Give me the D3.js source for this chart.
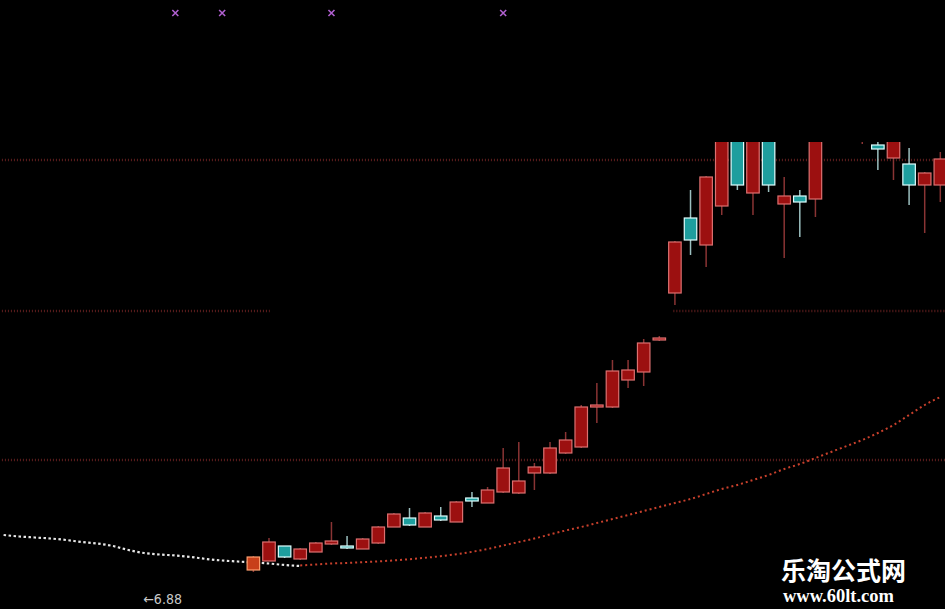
<!DOCTYPE html>
<html><head><meta charset="utf-8">
<script src="https://cdn.jsdelivr.net/npm/d3@7"></script>
<style>html,body{margin:0;padding:0;background:#000;overflow:hidden}</style>
</head><body>
<svg id="c" width="945" height="609"></svg>
<script>
// ---- data ----
const days  = d3.range(0, 45);
const open  = [6.90,6.99,7.14,7.01,7.08,7.16,7.14,7.11,7.17,7.33,7.42,7.33,7.44,7.38,7.62,7.57,7.68,7.67,7.87,7.87,8.07,8.13,8.53,8.53,8.80,8.88,9.20,9.67,10.42,10.15,10.54,11.35,10.67,11.45,10.56,10.64,10.61,11.40,11.70,11.45,11.15,11.02,10.96,10.75,10.75];
const close = [7.03,7.18,7.03,7.11,7.17,7.19,7.12,7.21,7.33,7.46,7.35,7.47,7.40,7.58,7.59,7.70,7.92,7.79,7.93,8.12,8.20,8.53,8.55,8.89,8.90,9.17,9.22,10.18,10.20,10.83,11.30,10.75,11.40,10.75,10.64,10.58,11.35,11.70,11.55,11.60,11.11,11.30,10.75,10.87,11.01];
const high  = [7.04,7.22,7.14,7.12,7.18,7.38,7.24,7.22,7.34,7.47,7.52,7.48,7.53,7.59,7.68,7.73,8.12,8.18,7.97,8.18,8.28,8.55,8.77,9.00,9.00,9.21,9.24,10.19,10.70,10.84,11.40,11.45,11.50,11.55,10.83,10.70,11.45,11.80,11.85,11.70,11.20,11.40,11.12,10.88,11.08];
const low   = [6.88,6.99,7.02,7.00,7.08,7.15,7.11,7.11,7.16,7.33,7.34,7.33,7.39,7.38,7.53,7.57,7.67,7.66,7.70,7.86,8.06,8.12,8.37,8.52,8.72,8.74,9.19,9.55,10.05,9.93,10.45,10.70,10.45,10.68,10.02,10.23,10.43,11.25,11.30,11.16,10.90,10.80,10.55,10.27,10.58];

const maWhiteIdx = d3.range(-16, 4);
const maWhite = [7.25,7.235,7.225,7.215,7.20,7.18,7.165,7.14,7.10,7.07,7.055,7.045,7.03,7.01,6.995,6.985,6.975,6.965,6.95,6.94];
const maRedIdx = d3.range(3, 45);
const maRed = [6.945,6.955,6.965,6.97,6.978,6.986,6.996,7.008,7.022,7.038,7.058,7.082,7.11,7.145,7.18,7.215,7.255,7.295,7.33,7.37,7.41,7.45,7.49,7.53,7.57,7.61,7.66,7.71,7.75,7.80,7.85,7.91,7.96,8.02,8.08,8.14,8.20,8.27,8.35,8.45,8.55,8.63];

const levelPrice = [11.0, 9.49, 9.49, 8.0];
const levelFrom  = [-16.3, -16.3, 26.9, -16.3];
const levelTo    = [44.4, 1.05, 44.4, 44.4];

const markerIdx = [-5, -2, 5, 16];
const lowLabel = "\u21906.88";
const brandCN = "乐淘公式网";
const brandURL = "www.60lt.com";

// ---- scales ----
const W = 945, H = 609;
const svg = d3.select("#c");
svg.append("rect").attr("width", W).attr("height", H).attr("fill", "#000");
const x = d3.scaleLinear().domain([-16.23, 44.3]).range([0, W]);
const y = d3.scaleLinear().domain([6.51, 12.6]).range([H, 0]);
const clipTop = y(11.18);

svg.append("clipPath").attr("id", "pc").append("rect")
  .attr("x", 0).attr("y", clipTop).attr("width", W).attr("height", H - clipTop);

const g = svg.append("g").attr("clip-path", "url(#pc)");

// horizontal dotted levels
levelPrice.forEach((p, i) => {
  g.append("line")
    .attr("x1", x(levelFrom[i])).attr("x2", x(levelTo[i]))
    .attr("y1", y(p)).attr("y2", y(p))
    .attr("stroke", "#5e1e1e").attr("stroke-width", 2.5)
    .attr("stroke-dasharray", "1,2");
});

// moving average lines
const maLine = d3.line().x(d => x(d[0])).y(d => y(d[1])).curve(d3.curveMonotoneX);
g.append("path").datum(maWhiteIdx.map((k, i) => [k, maWhite[i]]))
  .attr("d", maLine).attr("fill", "none")
  .attr("stroke", "#e8e8e8").attr("stroke-width", 2.2).attr("stroke-dasharray", "2.5,2.5");
g.append("path").datum(maRedIdx.map((k, i) => [k, maRed[i]]))
  .attr("d", maLine).attr("fill", "none")
  .attr("stroke", "#c8402c").attr("stroke-width", 2).attr("stroke-dasharray", "2,3");

// candles
const bw = 12.5;
const candles = g.selectAll("g.k").data(days).join("g").attr("class", "k");
candles.append("line")
  .attr("x1", d => x(d)).attr("x2", d => x(d))
  .attr("y1", d => y(high[d])).attr("y2", d => y(low[d]))
  .attr("stroke", d => close[d] >= open[d] ? "#8a3434" : "#9cc0c0")
  .attr("stroke-width", 1.5);
candles.append("rect")
  .attr("x", d => x(d) - bw / 2)
  .attr("y", d => y(Math.max(open[d], close[d])))
  .attr("width", bw)
  .attr("height", d => Math.max(2, Math.abs(y(open[d]) - y(close[d]))))
  .attr("fill", d => d === 0 ? "#c8401a" : (close[d] >= open[d] ? "#9c1010" : "#1e9e9e"))
  .attr("stroke", d => d === 0 ? "#ffa070" : (close[d] >= open[d] ? "#dc7070" : "#e0ffff"))
  .attr("stroke-width", 1.2);

// purple markers on top
svg.selectAll("g.m").data(markerIdx).join("g").attr("class", "m")
  .attr("transform", d => `translate(${x(d)},13)`)
  .each(function () {
    const s = d3.select(this);
    s.append("path").attr("d", "M-3,-3L3,3M3,-3L-3,3")
      .attr("stroke", "#b060d0").attr("stroke-width", 1.6);
  });

// low label
svg.append("text").attr("x", x(-7.05)).attr("y", 604)
  .attr("fill", "#c8c8c8").attr("font-family", "DejaVu Sans Condensed, Liberation Sans Narrow, sans-serif")
  .attr("font-stretch", "condensed")
  .attr("font-size", 14).text(lowLabel);

// brand watermark
svg.append("text").attr("x", 781).attr("y", 580)
  .attr("fill", "#ffffff").attr("font-family", "Noto Sans CJK SC, sans-serif")
  .attr("font-weight", "bold").attr("font-size", 25).text(brandCN);
svg.append("text").attr("x", 783).attr("y", 602)
  .attr("fill", "#ffffff").attr("font-family", "Liberation Serif, Times New Roman, serif")
  .attr("font-weight", "bold").attr("font-size", 18.5).text(brandURL);
</script>
</body></html>
